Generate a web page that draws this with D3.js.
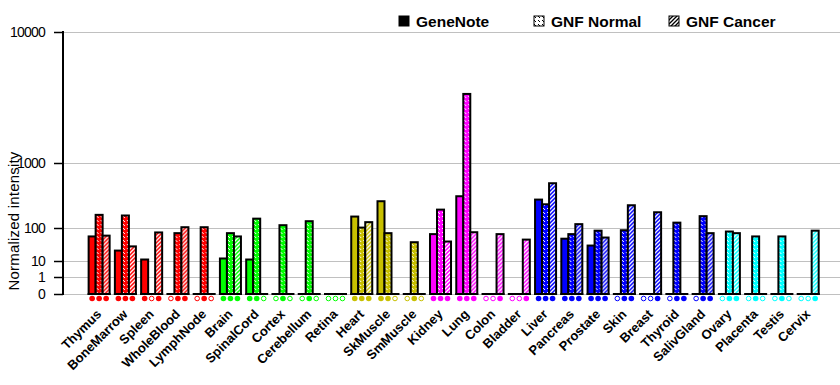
<!DOCTYPE html>
<html>
<head>
<meta charset="utf-8">
<script src="https://cdn.jsdelivr.net/npm/d3@7"></script>
<style>
  body { margin: 0; background: #fff; }
  svg { display: block; font-family: Arial, "Liberation Sans", sans-serif; }
</style>
</head>
<body>
<svg id="chart" width="840" height="385"></svg>
<script>
const tissues = ['Thymus', 'BoneMarrow', 'Spleen', 'WholeBlood', 'LymphNode',
  'Brain', 'SpinalCord', 'Cortex', 'Cerebellum', 'Retina',
  'Heart', 'SkMuscle', 'SmMuscle',
  'Kidney', 'Lung', 'Colon', 'Bladder',
  'Liver', 'Pancreas', 'Prostate', 'Skin', 'Breast', 'Thyroid', 'SalivGland',
  'Ovary', 'Placenta', 'Testis', 'Cervix'];
const tissueSystem = ['blood', 'blood', 'blood', 'blood', 'blood',
  'nerve', 'nerve', 'nerve', 'nerve', 'nerve',
  'muscle', 'muscle', 'muscle',
  'organ', 'organ', 'organ', 'organ',
  'gland', 'gland', 'gland', 'gland', 'gland', 'gland', 'gland',
  'repro', 'repro', 'repro', 'repro'];
const series = ['GeneNote', 'GNF Normal', 'GNF Cancer'];

const geneNote = [64, 25, 11.6, 0, 0, 12.8, 11.6, 0, 0, 0, 172, 314, 0, 73,
  374, 0, 0, 333, 56, 36, 0, 0, 0, 0, 0, 0, 0, 0];
const gnfNormal = [185, 180, 0, 77, 105, 77, 157, 116, 140, 0, 103, 77, 45, 229,
  4070, 0, 0, 281, 73, 88, 90, 0, 131, 175, 84, 64, 64, 0];
const gnfCancer = [67, 34, 80, 105, 0, 64, 0, 0, 0, 0, 134, 0, 0, 47,
  81, 73, 53, 567, 122, 60, 271, 206, 0, 77, 77, 0, 0, 88];

// present (1) / absent (0) calls shown under each bar
const callGeneNote = [1, 1, 1, 0, 0, 1, 1, 0, 0, 0, 1, 1, 0, 1, 1, 0, 0, 1, 1, 1, 0, 0, 0, 0, 0, 0, 0, 0];
const callNormal = [1, 1, 0, 1, 1, 1, 1, 1, 1, 0, 1, 1, 1, 1, 1, 0, 0, 1, 1, 1, 1, 0, 1, 1, 1, 1, 1, 0];
const callCancer = [1, 1, 1, 1, 0, 1, 0, 0, 0, 0, 1, 0, 0, 1, 1, 1, 1, 1, 1, 1, 1, 1, 1, 1, 1, 0, 0, 1];

const yTicks = [0, 1, 10, 100, 1000, 10000];

const values = [geneNote, gnfNormal, gnfCancer];
const calls = [callGeneNote, callNormal, callCancer];

const svg = d3.select('#chart');
const defs = svg.append('defs');

const color = d3.scaleOrdinal()
  .domain(['blood', 'nerve', 'muscle', 'organ', 'gland', 'repro'])
  .range(['#ff0000', '#00ff00', '#c8c000', '#ff00ff', '#0000ff', '#00ffff']);

const x = d3.scaleBand().domain(tissues).range([86, 821.3])
  .paddingInner(0.2).paddingOuter(0.1);
const xs = d3.scaleBand().domain(series).range([0, x.bandwidth()]);
const y = d3.scalePow().exponent(0.3).domain([0, 10000]).range([294, 32]);

function addPatterns(key, bg, fg) {
  // "\" dashed hatch for GNF Normal
  const n = defs.append('pattern').attr('id', `normal-${key}`)
    .attr('patternUnits', 'userSpaceOnUse').attr('width', 4).attr('height', 4);
  n.append('rect').attr('width', 4).attr('height', 4).attr('fill', bg);
  n.append('rect').attr('x', 0).attr('y', 0).attr('width', 1).attr('height', 1).attr('fill', fg);
  n.append('rect').attr('x', 1).attr('y', 1).attr('width', 1).attr('height', 1).attr('fill', fg);

  // "/" stripes for GNF Cancer
  const c = defs.append('pattern').attr('id', `cancer-${key}`)
    .attr('patternUnits', 'userSpaceOnUse').attr('width', 4).attr('height', 4);
  c.append('rect').attr('width', 4).attr('height', 4).attr('fill', bg);
  c.append('path').attr('d', 'M0,4L4,0M-1,1L1,-1M3,5L5,3')
    .attr('stroke', fg).attr('stroke-width', 1.3);
}
color.domain().forEach(k => addPatterns(k, color(k), '#fff'));
addPatterns('legend', '#fff', '#000');

function barFill(i, s) {
  const k = tissueSystem[i];
  if (s === 0) return color(k);
  return s === 1 ? `url(#normal-${k})` : `url(#cancer-${k})`;
}

// grid
svg.append('g').selectAll('line')
  .data(yTicks)
  .enter()
  .append('line')
  .attr('x1', 63).attr('x2', 840)
  .attr('y1', d => Math.round(y(d)) + 0.5)
  .attr('y2', d => Math.round(y(d)) + 0.5)
  .attr('stroke', '#c0c0c0');

// y axis
const yAxis = svg.append('g');
yAxis.append('line')
  .attr('x1', 63).attr('x2', 63).attr('y1', 31).attr('y2', 295)
  .attr('stroke', '#000').attr('stroke-width', 2);
yAxis.selectAll('.tick')
  .data(yTicks)
  .enter()
  .append('line')
  .attr('x1', 54).attr('x2', 63)
  .attr('y1', d => Math.round(y(d)) + 0.5)
  .attr('y2', d => Math.round(y(d)) + 0.5)
  .attr('stroke', '#000').attr('stroke-width', 1.5);
yAxis.selectAll('text')
  .data(yTicks)
  .enter()
  .append('text')
  .attr('x', 45)
  .attr('y', d => y(d) + 5)
  .attr('text-anchor', 'end')
  .attr('font-size', 14)
  .attr('letter-spacing', -0.8)
  .text(d => d);

svg.append('text')
  .attr('transform', 'translate(19,221) rotate(-90)')
  .attr('text-anchor', 'middle')
  .attr('font-size', 15)
  .attr('letter-spacing', 0.2)
  .text('Normalized intensity');

// bars
const groups = svg.append('g').selectAll('g')
  .data(tissues)
  .enter()
  .append('g')
  .attr('transform', d => `translate(${x(d)},0)`);

groups.each(function (t, i) {
  const g = d3.select(this);
  series.forEach((s, si) => {
    const v = values[si][i];
    if (v > 0) {
      g.append('rect')
        .attr('x', xs(s))
        .attr('y', y(v))
        .attr('width', xs.bandwidth())
        .attr('height', y(0) - y(v))
        .attr('fill', barFill(i, si))
        .attr('stroke', '#000')
        .attr('stroke-width', 2);
    }
    const cx = xs(s) + xs.bandwidth() / 2;
    if (calls[si][i]) {
      g.append('circle').attr('cx', cx).attr('cy', 298.5).attr('r', 2.8)
        .attr('fill', color(tissueSystem[i]));
    } else {
      g.append('circle').attr('cx', cx).attr('cy', 298.5).attr('r', 2.3)
        .attr('fill', '#fff').attr('stroke', color(tissueSystem[i])).attr('stroke-width', 1);
    }
  });
  g.append('line')
    .attr('x1', -1).attr('x2', x.bandwidth() + 1)
    .attr('y1', y(0)).attr('y2', y(0))
    .attr('stroke', '#000').attr('stroke-width', 2);
});

// x labels
svg.append('g').selectAll('text')
  .data(tissues)
  .enter()
  .append('text')
  .attr('transform', d => `translate(${x(d) + x.bandwidth() / 2 + 3},315) rotate(-45)`)
  .attr('text-anchor', 'end')
  .attr('font-size', 13)
  .attr('font-weight', 'bold')
  .text(d => d);

// legend
const legendX = [399, 534, 669];
const legend = svg.append('g').selectAll('g')
  .data(series)
  .enter()
  .append('g')
  .attr('transform', (d, i) => `translate(${legendX[i]},16)`);
legend.append('rect')
  .attr('width', 10).attr('height', 10)
  .attr('fill', (d, i) => (i === 0 ? '#000' : i === 1 ? 'url(#normal-legend)' : 'url(#cancer-legend)'))
  .attr('stroke', '#000').attr('stroke-width', 1);
legend.append('text')
  .attr('x', 17).attr('y', 10.5)
  .attr('font-size', 15.5)
  .attr('font-weight', 'bold')
  .text(d => d);
</script>
</body>
</html>
